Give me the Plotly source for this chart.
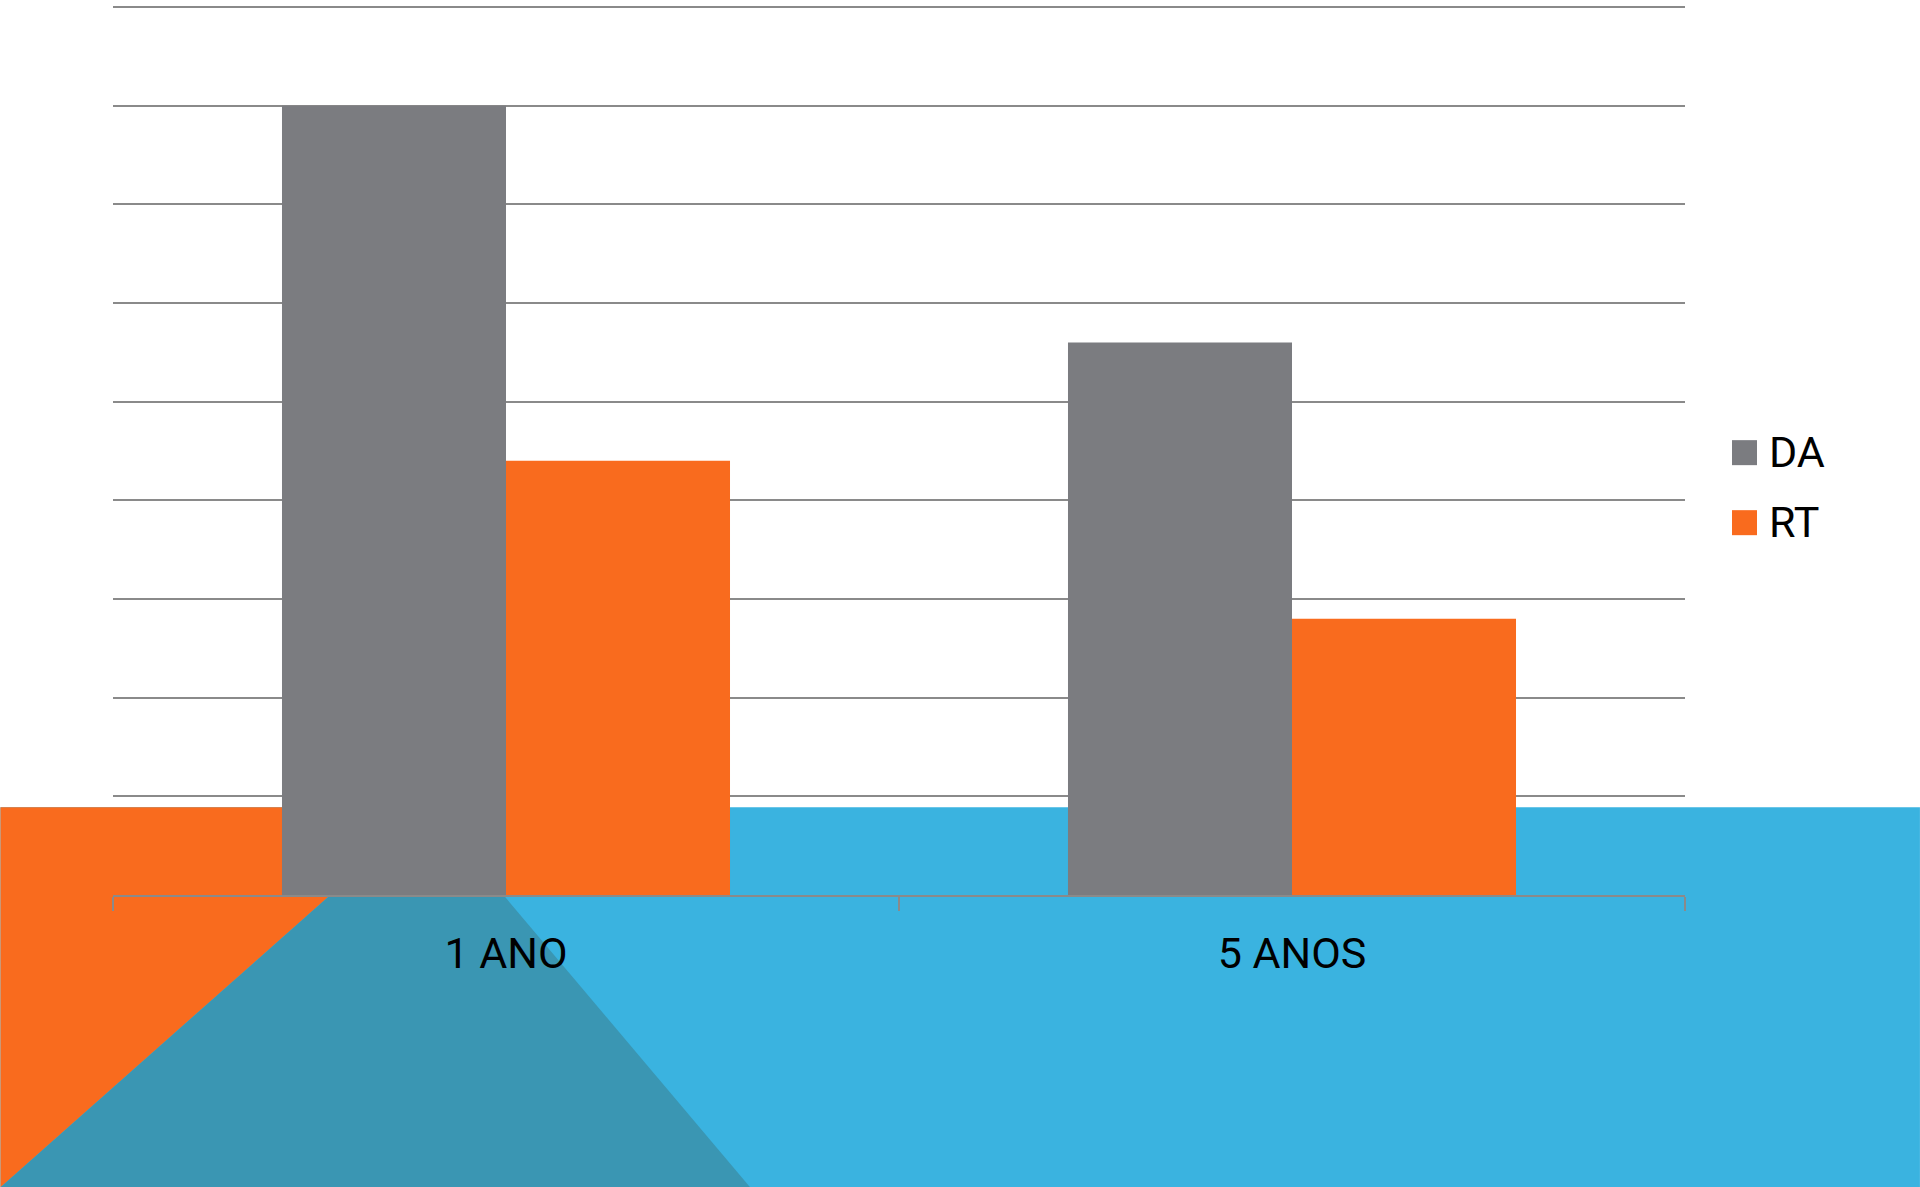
import plotly.graph_objects as go

# Chart data
categories = ["1 ANO", "5 ANOS"]
series_names = ["DA", "RT"]
da_values = [8.0, 5.6]
rt_values = [4.4, 2.8]
series_colors = ["#7b7c80", "#f96b1e"]

# Canvas and plot-area geometry (pixels)
W, H = 1920, 1187
M_L, M_R, M_T, M_B = 112.6, 235, 4, 292.3
PW = W - M_L - M_R
PH = H - M_T - M_B
Y_TOP = 9 + 3 / 98.63  # leaves room so the top gridline is fully drawn


def px_x(px):
    return (px - M_L) / PW


def px_y(py):
    return (H - M_B - py) / PH


fig = go.Figure()
for name, vals, col in zip(series_names, [da_values, rt_values], series_colors):
    fig.add_trace(go.Bar(
        x=categories, y=vals, name=name,
        marker=dict(color=col, line=dict(width=0)),
        showlegend=False,
    ))

# Decorative background band with orange and teal triangles
BLUE = "#3ab3e0"
TEAL = "#3a96b3"
ORANGE = "#f96b1e"
band_top = 807
apex_x = 429
shapes = [
    dict(type="rect", xref="paper", yref="paper", layer="below",
         x0=px_x(0), x1=px_x(W), y0=px_y(band_top), y1=px_y(H),
         fillcolor=BLUE, line=dict(width=0)),
    dict(type="path", xref="paper", yref="paper", layer="below",
         path=f"M {px_x(0)},{px_y(band_top)} L {px_x(apex_x)},{px_y(band_top)} "
              f"L {px_x(0)},{px_y(H)} Z",
         fillcolor=ORANGE, line=dict(width=0)),
    dict(type="path", xref="paper", yref="paper", layer="below",
         path=f"M {px_x(apex_x)},{px_y(band_top)} L {px_x(750)},{px_y(H)} "
              f"L {px_x(0)},{px_y(H)} Z",
         fillcolor=TEAL, line=dict(width=0)),
]

FONT = "Roboto, Liberation Sans, Arial, sans-serif"

# Legend: colour squares with series names
annotations = []
leg_x0, leg_size, leg_y0, leg_step = 1732, 25, 440, 70
for i, (name, col) in enumerate(zip(series_names, series_colors)):
    y0 = leg_y0 + i * leg_step
    shapes.append(dict(type="rect", xref="paper", yref="paper",
                       x0=px_x(leg_x0), x1=px_x(leg_x0 + leg_size),
                       y0=px_y(y0), y1=px_y(y0 + leg_size),
                       fillcolor=col, line=dict(width=0)))
    annotations.append(dict(xref="paper", yref="paper", x=px_x(1767),
                            y=px_y(y0 + leg_size / 2 - 0.5), text=name,
                            showarrow=False, xanchor="left", yanchor="middle",
                            font=dict(family=FONT, size=43, color="#000000")))

GRID = "#8a8a8a"
fig.update_layout(
    width=W, height=H,
    margin=dict(l=M_L, r=M_R, t=M_T, b=M_B, pad=0),
    paper_bgcolor="#ffffff",
    plot_bgcolor="rgba(0,0,0,0)",
    barmode="group", bargap=0.43, bargroupgap=0,
    font=dict(family=FONT, color="#000000"),
    shapes=shapes,
    annotations=annotations,
    showlegend=False,
    xaxis=dict(
        type="category", showline=True, linecolor=GRID, linewidth=1.5,
        ticks="outside", tickson="boundaries", ticklen=14, tickwidth=1.5,
        tickcolor=GRID, showgrid=False, ticklabelstandoff=20,
        tickfont=dict(family=FONT, size=43, color="#000000"),
    ),
    yaxis=dict(
        range=[0, Y_TOP], dtick=1, showticklabels=False, showgrid=True,
        gridcolor=GRID, gridwidth=1.5, zeroline=False, ticks="",
    ),
)

fig.write_html("out.html")
